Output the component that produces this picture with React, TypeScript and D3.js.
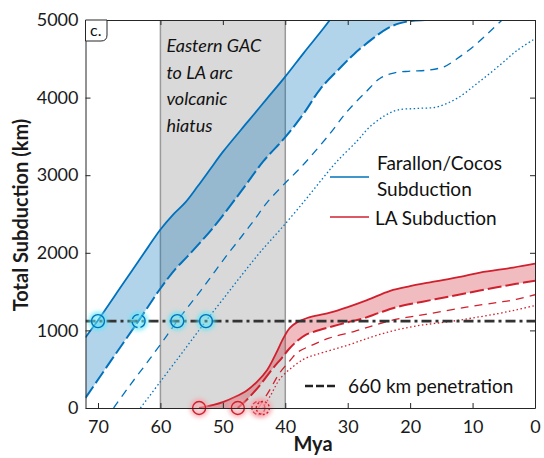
import React, { useEffect, useRef } from 'react';
import * as d3 from 'd3';

// axis ticks
const xTicks = [70, 60, 50, 40, 30, 20, 10, 0];
const yTicks = [0, 1000, 2000, 3000, 4000, 5000];

// 660 km penetration level (km of total subduction) and hiatus window (Mya)
const penetration = 1120;
const hiatus = [60, 40];

// Farallon/Cocos curves: [Mya, km]
const farallonSolid = [
  [72, 910], [70, 1130], [66, 1600], [62, 2070], [60, 2300], [58, 2490], [56, 2650], [54, 2860],
  [52, 3080], [50, 3300], [46, 3690], [43, 3980], [40, 4270], [37, 4580], [34, 4880], [32.3, 5060],
];
const farallonLong = [
  [72, 130], [68, 600], [63.5, 1122], [60, 1540], [57.5, 1800], [55.7, 1950], [51.5, 2330],
  [47, 2800], [43.5, 3180], [40, 3490], [37, 3800], [34.4, 4110], [31, 4400], [29, 4560],
  [26, 4760], [23.7, 4890], [21.6, 4960], [19.5, 4990], [17.6, 5000],
];
const farallonShort = [
  [67.5, 0], [65, 280], [62, 600], [59, 930], [57.3, 1122], [55.7, 1290], [53, 1570], [50, 1900],
  [47, 2210], [45, 2420], [42.9, 2650], [40, 2900], [38, 3060], [36.5, 3190], [33, 3520],
  [30.1, 3820], [27, 4080], [24.8, 4250], [22.5, 4320], [20, 4340], [17, 4355], [14.5, 4400],
  [12.5, 4500], [10, 4650], [7.5, 4830], [5.6, 4975], [4.8, 5030],
];
const farallonDot = [
  [63.2, 0], [60, 340], [57, 660], [55, 875], [52.7, 1122], [50, 1400], [47, 1710], [44, 2010],
  [40.8, 2300], [37, 2660], [34, 2960], [31.7, 3180], [28.5, 3440], [26.5, 3620], [24, 3770],
  [22, 3840], [19, 3860], [15.7, 3880], [12.5, 3990], [9, 4200], [5.6, 4420], [3, 4600], [0, 4760],
];

// LA subduction curves: [Mya, km]
const laSolid = [
  [53.8, 0], [51.5, 40], [49.9, 80], [48, 145], [46.1, 230], [44.5, 340], [42.9, 490], [41.5, 700],
  [40.3, 900], [39.3, 1030], [38.2, 1100], [36.5, 1160], [33, 1225], [30, 1300], [26.9, 1390],
  [23.2, 1510], [20, 1570], [16.8, 1620], [12, 1690], [8.8, 1745], [3.5, 1810], [0, 1860],
];
const laLong = [
  [47.6, 0], [46, 120], [44, 300], [42, 510], [40.5, 650], [39.3, 770], [38, 870], [36.8, 940],
  [35.3, 985], [33, 1040], [30, 1105], [27.5, 1155], [25, 1225], [22.1, 1300], [18, 1370],
  [14.1, 1430], [10, 1495], [6.1, 1555], [3, 1600], [0, 1640],
];
const laShort = [
  [44.3, 0], [42.5, 230], [41, 440], [39.2, 615], [38, 720], [36, 800], [33, 900], [29, 985],
  [26, 1060], [23, 1130], [20, 1175], [17, 1215], [11, 1300], [6, 1360], [3, 1400], [0, 1460],
];
const laDot = [
  [43.6, 0], [42.3, 170], [40.8, 380], [38, 580], [36.5, 650], [35, 690], [30, 810], [26, 920],
  [22, 1010], [18, 1070], [14, 1110], [10, 1160], [6, 1215], [3, 1265], [0, 1320],
];

// onset circles (Mya)
const blueOnsets = [70, 63.5, 57.3, 52.7];
const redOnsets = [53.8, 47.6, 44.3, 43.6];

const blue = '#0072bd';
const red = '#d0202e';
const axisColor = '#262626';
const font = 'Lato, "Open Sans", sans-serif';

const App = () => {
  const ref = useRef(null);

  useEffect(() => {
    if (ref.current) draw();
  }, []);

  const draw = () => {
    const width = 544,
      height = 458,
      left = 85.5,
      right = 535,
      top = 20,
      bottom = 408;

    const svg = d3.select(ref.current);
    svg.selectAll('*').remove();

    const x = d3.scaleLinear().domain([72, 0]).range([left, right]);
    const y = d3.scaleLinear().domain([0, 5000]).range([bottom, top]);

    const defs = svg.append('defs');
    defs
      .append('clipPath')
      .attr('id', 'plot-clip')
      .append('rect')
      .attr('x', left)
      .attr('y', top)
      .attr('width', right - left)
      .attr('height', bottom - top);
    defs
      .append('filter')
      .attr('id', 'glow')
      .attr('x', '-60%')
      .attr('y', '-60%')
      .attr('width', '220%')
      .attr('height', '220%')
      .append('feGaussianBlur')
      .attr('stdDeviation', 2.2);

    svg.append('rect').attr('width', width).attr('height', height).attr('fill', 'white');

    const plot = svg.append('g').attr('clip-path', 'url(#plot-clip)');

    // hiatus box
    plot
      .append('rect')
      .attr('x', x(hiatus[0]))
      .attr('y', top)
      .attr('width', x(hiatus[1]) - x(hiatus[0]))
      .attr('height', bottom - top)
      .attr('fill', '#d9d9d9');
    hiatus.forEach((h) => {
      plot
        .append('line')
        .attr('x1', x(h))
        .attr('x2', x(h))
        .attr('y1', top)
        .attr('y2', bottom)
        .attr('stroke', '#9a9a9a')
        .attr('stroke-width', 1.5);
    });

    const line = d3
      .line()
      .x((d) => x(d[0]))
      .y((d) => y(d[1]))
      .curve(d3.curveCatmullRom.alpha(0.5));

    const band = (upper, lower) =>
      line(upper) + line(lower.slice().reverse()).replace(/^M/, 'L') + 'Z';

    const curve = (data, color, w, dash) => {
      plot
        .append('path')
        .attr('d', line(data))
        .attr('fill', 'none')
        .attr('stroke', color)
        .attr('stroke-width', w)
        .attr('stroke-dasharray', dash);
    };

    // Farallon/Cocos
    plot.append('path').attr('d', band(farallonSolid, farallonLong)).attr('fill', blue).attr('fill-opacity', 0.3);
    curve(farallonSolid, blue, 1.8, null);
    curve(farallonLong, blue, 2, '14,4');
    curve(farallonShort, blue, 1.3, '8,6');
    curve(farallonDot, blue, 1.3, '1.5,2.5');

    // LA
    plot.append('path').attr('d', band(laSolid, laLong)).attr('fill', red).attr('fill-opacity', 0.3);
    curve(laSolid, red, 1.8, null);
    curve(laLong, red, 2, '14,4');
    curve(laShort, red, 1.3, '8,6');
    curve(laDot, red, 1.3, '1.5,2.5');

    // 660 km penetration
    plot
      .append('line')
      .attr('x1', left)
      .attr('x2', right)
      .attr('y1', y(penetration))
      .attr('y2', y(penetration))
      .attr('stroke', '#333')
      .attr('stroke-width', 2.6)
      .attr('stroke-dasharray', '10,4,3,4');

    // onset circles
    const onset = (mya, km, color, glowColor, dash) => {
      svg
        .append('circle')
        .attr('cx', x(mya))
        .attr('cy', y(km))
        .attr('r', 7)
        .attr('fill', glowColor)
        .attr('fill-opacity', 0.35)
        .attr('stroke', glowColor)
        .attr('stroke-width', 5)
        .attr('stroke-opacity', 0.75)
        .attr('filter', 'url(#glow)');
      svg
        .append('circle')
        .attr('cx', x(mya))
        .attr('cy', y(km))
        .attr('r', 6.5)
        .attr('fill', 'none')
        .attr('stroke', color)
        .attr('stroke-width', 1.4)
        .attr('stroke-dasharray', dash);
    };
    const blueDash = [null, '8,3', null, null];
    const redDash = [null, null, '4,2', '2,2'];
    blueOnsets.forEach((m, i) => onset(m, penetration, blue, '#5fe6f5', blueDash[i]));
    redOnsets.forEach((m, i) => onset(m, 0, red, '#f5a3aa', redDash[i]));

    // hiatus label
    const hiatusLines = ['Eastern GAC', 'to LA arc', 'volcanic', 'hiatus'];
    hiatusLines.forEach((t, i) => {
      svg
        .append('text')
        .attr('x', x(hiatus[0]) + 6)
        .attr('y', 52 + i * 26.5)
        .attr('font-family', font)
        .attr('font-style', 'italic')
        .attr('font-size', 18)
        .attr('fill', '#111')
        .text(t);
    });

    // axes with inward ticks
    const styleAxis = (g) => {
      g.selectAll('path').attr('stroke', axisColor).attr('stroke-width', 1);
      g.selectAll('line').attr('stroke', axisColor).attr('stroke-width', 1);
      g.selectAll('text').attr('fill', '#1a1a1a').attr('font-family', font).attr('font-size', 18);
    };
    svg
      .append('g')
      .attr('transform', `translate(0,${bottom})`)
      .call(d3.axisBottom(x).tickValues(xTicks).tickSize(-5).tickPadding(12).tickSizeOuter(0).tickFormat(d3.format('d')))
      .call(styleAxis);
    svg
      .append('g')
      .attr('transform', `translate(0,${top})`)
      .call(d3.axisTop(x).tickValues(xTicks).tickSize(-5).tickFormat(() => '').tickSizeOuter(0))
      .call(styleAxis);
    svg
      .append('g')
      .attr('transform', `translate(${left},0)`)
      .call(d3.axisLeft(y).tickValues(yTicks).tickSize(-5).tickPadding(7).tickSizeOuter(0).tickFormat(d3.format('d')))
      .call(styleAxis);
    svg
      .append('g')
      .attr('transform', `translate(${right},0)`)
      .call(d3.axisRight(y).tickValues(yTicks).tickSize(-5).tickFormat(() => '').tickSizeOuter(0))
      .call(styleAxis);

    // panel tag
    svg
      .append('path')
      .attr('d', `M${left},${top}H107V35Q107,41 101,41H${left}Z`)
      .attr('fill', 'white')
      .attr('stroke', axisColor)
      .attr('stroke-width', 1);
    svg
      .append('text')
      .attr('x', 90)
      .attr('y', 36)
      .attr('font-family', font)
      .attr('font-size', 16)
      .attr('fill', '#111')
      .text('c.');

    // axis titles
    svg
      .append('text')
      .attr('transform', 'translate(28,215) rotate(-90)')
      .attr('text-anchor', 'middle')
      .attr('font-family', font)
      .attr('font-weight', 'bold')
      .attr('font-size', 20)
      .attr('fill', '#1a1a1a')
      .text('Total Subduction (km)');
    svg
      .append('text')
      .attr('x', 313)
      .attr('y', 451)
      .attr('text-anchor', 'middle')
      .attr('font-family', font)
      .attr('font-weight', 'bold')
      .attr('font-size', 20)
      .attr('fill', '#1a1a1a')
      .text('Mya');

    // legend
    const legendText = (tx, ty, t) => {
      svg
        .append('text')
        .attr('x', tx)
        .attr('y', ty)
        .attr('font-family', font)
        .attr('font-size', 19)
        .attr('fill', '#111')
        .text(t);
    };
    const legendLine = (ly, color, w, dash, x1, x2) => {
      svg
        .append('line')
        .attr('x1', x1)
        .attr('x2', x2)
        .attr('y1', ly)
        .attr('y2', ly)
        .attr('stroke', color)
        .attr('stroke-width', w)
        .attr('stroke-dasharray', dash);
    };
    legendLine(177, blue, 1.3, null, 330, 369);
    legendText(377, 170, 'Farallon/Cocos');
    legendText(377, 196, 'Subduction');
    legendLine(217, red, 1.3, null, 330, 369);
    legendText(375, 225, 'LA Subduction');
    legendLine(386, '#222', 2.6, '8,3', 305, 338);
    legendText(348, 393, '660 km penetration');
  };

  return (
    <svg
      ref={ref}
      width={544}
      height={458}
      style={{ position: 'absolute', left: 0, top: 0 }}
    />
  );
};

export default App;
